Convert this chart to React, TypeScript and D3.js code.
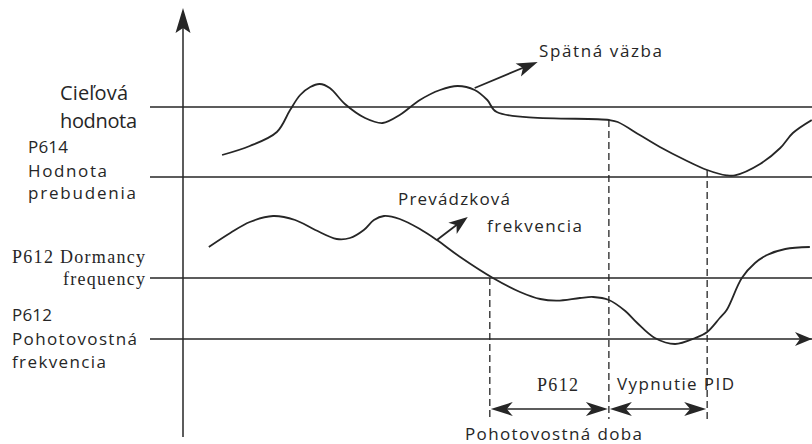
import React from 'react'
import { scaleLinear, line, curveCatmullRom } from 'd3'

// time runs 0..100 along the horizontal axis, level 0..100 up the vertical one
const levelNames = ['target', 'wake', 'dormancy', 'standby']
const levelValues = [82.5, 65, 39.75, 24.5]

// feedback (PID input) curve, [time, level]
const feedback: [number, number][] = [
  [6.2, 70.5], [10.6, 72.75], [14.9, 76.25], [17.0, 81.75], [18.6, 85.5], [20.2, 87.5],
  [21.7, 88.25], [23.3, 87.25], [25.7, 83.25], [28.9, 79.75], [31.7, 78.5], [34.4, 80.5],
  [37.6, 84.25], [40.8, 86.75], [43.6, 87.75], [46.3, 86.75], [48.3, 84.25], [49.8, 81.25],
  [67.6, 79.25], [69.0, 78.75], [72.5, 75.5], [75.7, 72.5], [79.7, 69.25], [83.2, 66.75],
  [86.3, 65.4], [87.6, 65.4], [91.6, 68.25], [94.8, 72.25], [96.8, 76], [99.8, 79.25],
]

// running frequency curve, [time, level]
const frequency: [number, number][] = [
  [4.1, 47.5], [7.5, 51], [10.6, 53.75], [14.3, 55.25], [17.8, 54.25], [21.0, 51.75],
  [24.4, 49.5], [26.5, 49.75], [28.7, 51.75], [30.3, 54.25], [31.9, 55.25], [34.4, 54.5], [37.6, 52],
  [40.3, 49.25], [44.0, 45], [49.2, 39.75], [53.5, 36.25], [56.7, 34.5], [59.4, 34.1],
  [63.0, 34.75], [65.1, 35], [67.6, 34.25], [70.2, 31.5], [72.1, 28.5], [74.9, 24.75],
  [78.1, 23.25], [81.3, 24.75], [83.2, 26.25], [85.2, 29.75], [86.3, 31.75], [88.7, 39.75],
  [90.8, 43.5], [92.7, 45.5], [95.6, 47], [99.5, 47.5],
]

// dashed event markers: time, level where the dash starts
const markerTimes = [48.7, 67.6, 83.2]
const markerTops = [39.75, 79.25, 66.75]
const markerBottom = 4.5
const spanLevel = 7

// pointer arrows [from, to]
const feedbackPointer: [number, number][] = [[46.3, 87.25], [56.3, 93.75]]
const frequencyPointer: [number, number][] = [[40.3, 49.25], [45.2, 55]]

const leftLabels = ['Cieľová', 'hodnota', 'P614', 'Hodnota', 'prebudenia', 'P612 Dormancy', 'frequency', 'P612', 'Pohotovostná', 'frekvencia']
const curveLabels = ['Spätná väzba', 'Prevádzková', 'frekvencia']
const spanLabels = ['P612', 'Vypnutie PID', 'Pohotovostná doba']

const width = 812
const height = 444
const ink = '#262626'
const sans = '"Open Sans", "Noto Sans", sans-serif'
const serif = '"Liberation Serif", "Times New Roman", "DejaVu Serif", serif'

const x = scaleLinear().domain([0, 100]).range([183, 813])
const y = scaleLinear().domain([0, 100]).range([437, 37])

const path = line<[number, number]>()
  .x(d => x(d[0]))
  .y(d => y(d[1]))
  .curve(curveCatmullRom.alpha(0.5))

// notched arrow head pointing from (fx,fy) to tip (tx,ty)
const head = (fx: number, fy: number, tx: number, ty: number, len = 22, half = 7, notch = 6) => {
  const a = Math.atan2(ty - fy, tx - fx)
  const ux = Math.cos(a), uy = Math.sin(a)
  const bx = tx - ux * len, by = ty - uy * len
  const nx = tx - ux * (len - notch), ny = ty - uy * (len - notch)
  return `M${tx},${ty}L${bx - uy * half},${by + ux * half}L${nx},${ny}L${bx + uy * half},${by - ux * half}Z`
}

const Label = ({ x, y, text, size = 17, len, font = sans, anchor = 'start' }: any) => (
  <text x={x} y={y} fontSize={size} style={{ fontFamily: font }} fill={ink} textAnchor={anchor}
    textLength={len} lengthAdjust="spacing">{text}</text>
)

export default function App() {
  const x0 = x(0)
  const lineStart = 150
  const spanY = y(spanLevel)
  const [fp0, fp1] = feedbackPointer
  const [qp0, qp1] = frequencyPointer

  return (
    <svg width={width} height={height} style={{ position: 'absolute', left: 0, top: 0, background: '#fff' }}>
      {/* reference levels */}
      {levelValues.map((v, i) => (
        <line key={levelNames[i]} x1={lineStart} x2={x(100)} y1={y(v)} y2={y(v)} stroke={ink} strokeWidth={1.5} />
      ))}
      <path d={head(x(97), y(levelValues[3]), x(100) - 1, y(levelValues[3]), 17, 7, 5)} fill={ink} />

      {/* vertical axis */}
      <line x1={x0} x2={x0} y1={y(0)} y2={14} stroke={ink} strokeWidth={1.5} />
      <path d={head(x0, 40, x0, 8, 25, 7.5, 5)} fill={ink} />

      {/* dashed markers */}
      {markerTimes.map((t, i) => (
        <line key={t} x1={x(t)} x2={x(t)} y1={y(markerTops[i])} y2={y(markerBottom)}
          stroke={ink} strokeWidth={1.3} strokeDasharray="7 4" />
      ))}

      {/* spans */}
      {[0, 1].map(i => {
        const a = x(markerTimes[i]) + 1, b = x(markerTimes[i + 1]) - 1
        return (
          <g key={i}>
            <line x1={a + 10} x2={b - 10} y1={spanY} y2={spanY} stroke={ink} strokeWidth={1.5} />
            <path d={head(b, spanY, a, spanY)} fill={ink} />
            <path d={head(a, spanY, b, spanY)} fill={ink} />
          </g>
        )
      })}

      {/* curves */}
      <path d={path(feedback) ?? ''} fill="none" stroke={ink} strokeWidth={1.8} />
      <path d={path(frequency) ?? ''} fill="none" stroke={ink} strokeWidth={1.8} />

      {/* pointer arrows */}
      <line x1={x(fp0[0])} y1={y(fp0[1])} x2={x(fp1[0]) - 8} y2={y(fp1[1]) + 3} stroke={ink} strokeWidth={1.8} />
      <path d={head(x(fp0[0]), y(fp0[1]), x(fp1[0]), y(fp1[1]), 21, 7, 5)} fill={ink} />
      <line x1={x(qp0[0])} y1={y(qp0[1])} x2={x(qp1[0]) - 6} y2={y(qp1[1]) + 4} stroke={ink} strokeWidth={1.8} />
      <path d={head(x(qp0[0]), y(qp0[1]), x(qp1[0]), y(qp1[1]), 19, 7, 5)} fill={ink} />

      {/* left labels */}
      <Label x={60} y={100} text={leftLabels[0]} size={20} len={68} />
      <Label x={60} y={128} text={leftLabels[1]} size={20} len={77} />
      <Label x={28} y={153} text={leftLabels[2]} len={40} />
      <Label x={28} y={177} text={leftLabels[3]} len={79} />
      <Label x={28} y={199} text={leftLabels[4]} len={108} />
      <Label x={12} y={263} text={leftLabels[5]} size={18} font={serif} len={133} />
      <Label x={145} y={285} text={leftLabels[6]} size={18} font={serif} len={82} anchor="end" />
      <Label x={12} y={321} text={leftLabels[7]} len={40} />
      <Label x={12} y={345} text={leftLabels[8]} len={125} />
      <Label x={12} y={368} text={leftLabels[9]} len={94} />

      {/* curve labels */}
      <Label x={539} y={57} text={curveLabels[0]} len={123} />
      <Label x={398} y={205} text={curveLabels[1]} len={112} />
      <Label x={487} y={232} text={curveLabels[2]} len={95} />

      {/* span labels */}
      <Label x={537} y={391} text={spanLabels[0]} size={18} font={serif} len={41} />
      <Label x={617} y={390} text={spanLabels[1]} len={117} />
      <Label x={465} y={440} text={spanLabels[2]} len={177} />
    </svg>
  )
}
